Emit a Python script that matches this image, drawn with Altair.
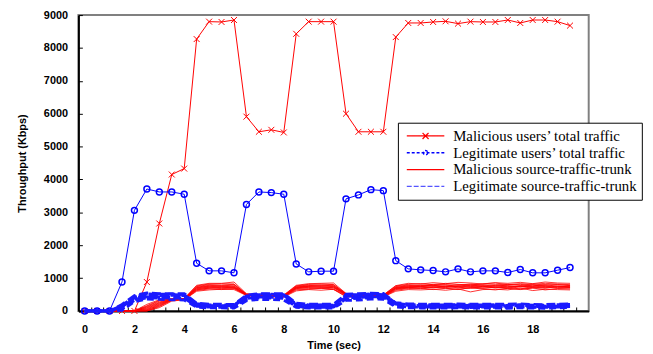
import altair as alt
import pandas as pd

# ---------------- data ----------------
times = [0, 0.5, 1, 1.5, 2, 2.5, 3, 3.5, 4, 4.5, 5, 5.5, 6, 6.5, 7, 7.5, 8, 8.5, 9, 9.5,
         10, 10.5, 11, 11.5, 12, 12.5, 13, 13.5, 14, 14.5, 15, 15.5, 16, 16.5, 17, 17.5, 18, 18.5, 19, 19.5]

malicious_total = [0, 0, 0, 0, 0, 880, 2660, 4150, 4330, 8270, 8800, 8790, 8850, 5910, 5450, 5510, 5430,
                   8430, 8800, 8800, 8800, 6000, 5450, 5450, 5450, 8330, 8760, 8760, 8790, 8810, 8740,
                   8800, 8790, 8790, 8850, 8760, 8850, 8850, 8800, 8680]

legit_total = [0, 0, 0, 880, 3060, 3710, 3620, 3620, 3550, 1450, 1220, 1220, 1160, 3240, 3620, 3600, 3550,
               1430, 1190, 1210, 1210, 3410, 3530, 3690, 3660, 1530, 1280, 1250, 1230, 1190, 1280, 1190,
               1220, 1220, 1170, 1260, 1160, 1160, 1240, 1320]

malicious_trunks = [
    [0, 0, 0, 0, 0, 0, 100, 300, 340, 600, 640, 660, 650, 470, 420, 430, 425, 610, 650, 630, 660, 430, 420, 425, 430, 600,
     650, 640, 660, 630, 670, 580, 650, 660, 640, 700, 620, 660, 650, 640],
    [0, 0, 0, 0, 0, 0, 130, 320, 345, 620, 670, 650, 680, 480, 430, 440, 430, 640, 660, 690, 650, 450, 430, 435, 425, 630,
     680, 700, 650, 690, 660, 700, 670, 640, 690, 660, 700, 640, 680, 670],
    [0, 0, 0, 0, 0, 10, 150, 330, 350, 640, 700, 680, 690, 480, 440, 430, 440, 660, 680, 700, 670, 470, 440, 430, 440, 650,
     700, 680, 720, 690, 650, 710, 690, 720, 680, 650, 700, 730, 690, 700],
    [0, 0, 0, 0, 0, 30, 170, 340, 355, 650, 690, 720, 710, 490, 445, 450, 440, 680, 710, 690, 720, 480, 445, 440, 445, 670,
     710, 730, 700, 740, 720, 690, 750, 700, 730, 760, 710, 690, 740, 710],
    [0, 0, 0, 0, 0, 40, 190, 345, 360, 670, 720, 700, 730, 490, 450, 455, 450, 690, 720, 730, 700, 490, 450, 455, 450, 680,
     720, 700, 740, 710, 760, 730, 700, 720, 750, 690, 730, 760, 710, 720],
    [0, 0, 0, 0, 0, 60, 210, 350, 360, 680, 730, 740, 720, 495, 455, 460, 450, 700, 740, 720, 730, 500, 455, 450, 460, 690,
     730, 750, 720, 760, 700, 740, 770, 730, 700, 750, 740, 710, 760, 730],
    [0, 0, 0, 0, 0, 80, 230, 350, 362, 700, 750, 730, 760, 495, 455, 455, 460, 710, 750, 760, 740, 505, 460, 455, 455, 700,
     740, 760, 780, 730, 750, 800, 740, 770, 720, 760, 790, 740, 730, 760],
    [0, 0, 0, 0, 0, 100, 250, 355, 365, 710, 760, 770, 750, 500, 460, 465, 455, 720, 760, 750, 770, 510, 460, 460, 465, 710,
     760, 740, 770, 790, 740, 760, 730, 780, 770, 740, 760, 800, 750, 740],
    [0, 0, 0, 0, 0, 120, 270, 360, 368, 720, 780, 760, 790, 505, 465, 470, 460, 730, 770, 790, 760, 515, 465, 470, 465, 720,
     770, 790, 760, 750, 800, 770, 790, 750, 790, 810, 760, 780, 800, 770],
    [0, 0, 0, 0, 0, 140, 300, 360, 370, 740, 800, 790, 810, 510, 470, 475, 470, 750, 790, 780, 800, 520, 470, 470, 475, 740,
     790, 770, 810, 800, 780, 820, 790, 800, 810, 780, 820, 790, 800, 780],
    [0, 0, 0, 0, 0, 160, 320, 365, 375, 760, 820, 830, 820, 515, 480, 485, 475, 760, 810, 820, 800, 525, 480, 480, 480, 760,
     810, 830, 800, 840, 810, 790, 830, 850, 800, 830, 810, 840, 820, 800],
    [0, 0, 0, 0, 0, 200, 340, 375, 380, 780, 840, 840, 880, 525, 490, 485, 485, 780, 830, 840, 850, 535, 490, 490, 490, 770,
     840, 820, 860, 830, 870, 850, 820, 860, 840, 870, 830, 880, 850, 840],
]

legit_trunks_by_time = [
    [0, 0, 0, 0, 0, 0, 0, 0],
    [0, 0, 0, 0, 0, 0, 0, 0],
    [0, 0, 0, 0, 0, 0, 0, 0],
    [20, 50, 80, 100, 120, 140, 170, 200],
    [280, 320, 350, 380, 400, 420, 440, 470],
    [360, 400, 430, 460, 480, 510, 520, 550],
    [350, 390, 420, 450, 470, 500, 510, 530],
    [340, 395, 425, 445, 475, 495, 515, 530],
    [330, 380, 415, 440, 465, 490, 500, 530],
    [110, 140, 160, 180, 195, 205, 220, 240],
    [90, 115, 135, 150, 160, 175, 185, 210],
    [95, 110, 140, 150, 165, 170, 185, 205],
    [85, 105, 130, 145, 155, 165, 175, 200],
    [310, 350, 380, 400, 420, 440, 460, 480],
    [350, 390, 420, 450, 470, 500, 510, 530],
    [345, 390, 415, 450, 470, 490, 510, 530],
    [330, 380, 415, 440, 465, 490, 500, 530],
    [110, 135, 160, 175, 190, 205, 215, 240],
    [85, 110, 130, 145, 160, 170, 185, 205],
    [90, 110, 135, 150, 160, 175, 185, 205],
    [85, 115, 135, 150, 165, 170, 180, 210],
    [320, 365, 400, 420, 445, 465, 485, 510],
    [330, 380, 410, 440, 460, 485, 500, 525],
    [360, 400, 430, 455, 480, 505, 520, 540],
    [355, 395, 425, 455, 475, 500, 520, 535],
    [120, 150, 170, 190, 205, 215, 230, 250],
    [95, 120, 140, 160, 170, 185, 195, 215],
    [90, 120, 140, 155, 165, 180, 190, 210],
    [90, 115, 135, 155, 165, 175, 190, 205],
    [85, 110, 130, 145, 160, 170, 185, 205],
    [95, 120, 140, 160, 170, 185, 195, 215],
    [85, 105, 135, 150, 155, 170, 185, 205],
    [90, 115, 135, 150, 160, 175, 185, 210],
    [90, 110, 140, 150, 165, 170, 190, 205],
    [80, 105, 130, 145, 155, 170, 180, 205],
    [95, 120, 140, 155, 165, 180, 190, 215],
    [85, 105, 130, 145, 155, 165, 175, 200],
    [80, 110, 130, 145, 155, 165, 180, 195],
    [95, 115, 140, 150, 165, 175, 190, 210],
    [100, 130, 150, 165, 175, 185, 200, 215],
]

x_label_values = [0, 2, 4, 6, 8, 10, 12, 14, 16, 18]
x_tick_values = [0.25, 0.75, 1.25, 1.75, 2.25, 2.75, 3.25, 3.75, 4.25, 4.75, 5.25, 5.75, 6.25, 6.75,
                 7.25, 7.75, 8.25, 8.75, 9.25, 9.75, 10.25, 10.75, 11.25, 11.75, 12.25, 12.75, 13.25,
                 13.75, 14.25, 14.75, 15.25, 15.75, 16.25, 16.75, 17.25, 17.75, 18.25, 18.75, 19.25, 19.75]
y_values = [0, 1000, 2000, 3000, 4000, 5000, 6000, 7000, 8000, 9000]

legend_labels = ["Malicious users\u2019 total traffic", "Legitimate users\u2019 total traffic",
                 "Malicious source-traffic-trunk", "Legitimate source-traffic-trunk"]

# ---------------- styling ----------------
RED = "#FF0000"
BLUE = "#0000FF"
DASHBLUE = "#1a1aff"
W, H = 516.7, 299.6

tot_mal = pd.DataFrame({"t": times, "v": malicious_total})
tot_leg = pd.DataFrame({"t": times, "v": legit_total})
mal_df = pd.DataFrame([{"t": times[i], "v": row[i], "trunk": k}
                       for k, row in enumerate(malicious_trunks) for i in range(len(times))])
legend_df = pd.DataFrame({"series": legend_labels, "t": [-10] * 4, "v": [0] * 4})

x_scale = alt.Scale(domain=[-0.25, 20.25], nice=False, zero=False)
y_scale = alt.Scale(domain=[0, 9000], nice=False, zero=False)

axis_font = dict(labelFont="Liberation Sans", labelFontWeight="bold", labelFontSize=11, labelColor="black",
                 titleFont="Liberation Sans", titleFontWeight="bold", titleFontSize=11, titleColor="black")

axA_x = alt.Axis(values=x_label_values, title="Time (sec)", ticks=False, labelPadding=13, titlePadding=5,
                 domainColor="black", domainWidth=2, grid=False, labelFlush=False, format="d", **axis_font)
axA_y = alt.Axis(values=y_values, title="Throughput (Kbps)", ticks=False, labelPadding=11, titlePadding=16,
                 domainColor="black", domainWidth=2, grid=False, labelFlush=False, format="d", **axis_font)
axB_x = alt.Axis(orient="top", offset=-H, values=x_tick_values, tickSize=4, tickColor="black", tickWidth=1,
                 labels=False, domain=False, grid=False, title="")
axB_y = alt.Axis(orient="right", offset=-W, values=y_values, tickSize=4, tickColor="black", tickWidth=1,
                 labels=False, domain=False, grid=False, title="")

def xe(axis):
    return alt.X("t:Q", scale=x_scale, axis=axis)

def ye(axis):
    return alt.Y("v:Q", scale=y_scale, axis=axis)

XPATH = "M-1,-1L1,1M-1,1L1,-1"

layers = []
layers.append(alt.Chart(tot_mal).mark_line(color=RED, strokeWidth=1).encode(x=xe(axA_x), y=ye(axA_y)))
layers.append(alt.Chart(tot_mal).mark_point(shape=XPATH, size=36, color=RED, strokeWidth=1, filled=False,
                                            opacity=1).encode(x=xe(None), y=ye(None)))
layers.append(alt.Chart(tot_leg).mark_line(color=BLUE, strokeWidth=1).encode(x=xe(None), y=ye(None)))
layers.append(alt.Chart(tot_leg).mark_point(shape="circle", size=36, color=BLUE, strokeWidth=1.5, filled=False,
                                            opacity=1).encode(x=xe(None), y=ye(None)))
layers.append(alt.Chart(mal_df).mark_line(color=RED, strokeWidth=0.8).encode(x=xe(None), y=ye(None),
                                                                            detail="trunk:N"))

trunk_dashes = [[7, 4], [8, 4], [6, 4], [7, 5], [8, 3], [6, 5], [7, 3], [9, 4]]
trunk_offsets = [0, 3, 6, 2, 8, 4, 1, 5]
for k in range(8):
    df_k = pd.DataFrame({"t": times, "v": [row[k] for row in legit_trunks_by_time]})
    layers.append(alt.Chart(df_k).mark_line(color=DASHBLUE, strokeWidth=2.8, strokeDash=trunk_dashes[k],
                                            strokeDashOffset=trunk_offsets[k]).encode(x=xe(None), y=ye(None)))

shape_paths = [
    "M-1,0L1,0M-0.16,-0.16L0.16,0.16M-0.16,0.16L0.16,-0.16",
    "M-1,0L1,0M0.12,0A0.12,0.12,0,1,1,-0.12,0A0.12,0.12,0,1,1,0.12,0",
    "M-1,0L1,0",
    "M-1,0L1,0",
]

LEG_FONT = "Liberation Serif"
LEG_SIZE = 15

leg = alt.Legend(orient="none", legendX=323.5, legendY=109, title=None, padding=5,
                 strokeColor="black", fillColor="white", labelFont=LEG_FONT, labelFontSize=LEG_SIZE,
                 labelColor="black", symbolSize=1444, symbolStrokeWidth=1.3, clipHeight=16.8, rowPadding=0,
                 symbolOffset=3, labelOffset=8, labelLimit=400)

layers.append(alt.Chart(legend_df).mark_point(clip=True, filled=False, strokeWidth=1.3, opacity=1).encode(
    x=xe(axB_x), y=ye(axB_y),
    color=alt.Color("series:N", scale=alt.Scale(domain=legend_labels, range=[RED, BLUE, RED, "#5555FF"]), legend=leg),
    shape=alt.Shape("series:N", scale=alt.Scale(domain=legend_labels, range=shape_paths), legend=leg),
    strokeDash=alt.StrokeDash("series:N", scale=alt.Scale(domain=legend_labels,
                                                          range=[[1, 0], [3, 2], [1, 0], [5, 2]]), legend=leg),
))

chart = alt.layer(*layers).resolve_axis(x="independent", y="independent").properties(
    width=W, height=H,
    autosize=alt.AutoSizeParams(type="none"),
    padding={"left": 71.3, "top": 5, "right": 57, "bottom": 40},
    background="white",
).configure_view(stroke="#808080", strokeWidth=2).configure_legend(
    labelFont=LEG_FONT, labelFontSize=LEG_SIZE, labelColor="black"
)

chart.save("out.html", embed_options={"renderer": "svg", "actions": False})
